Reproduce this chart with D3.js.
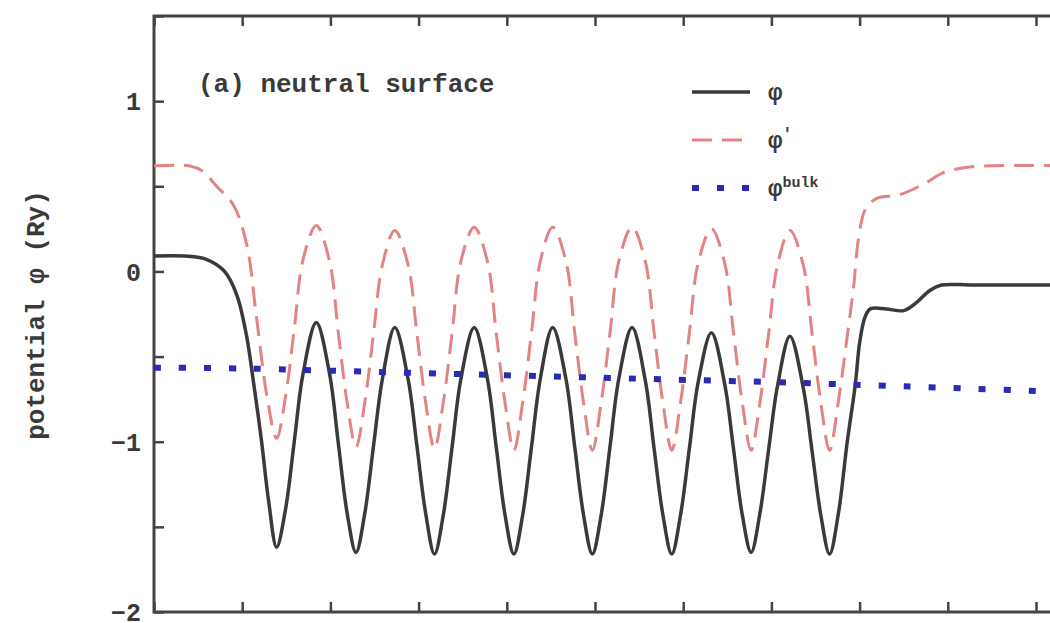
<!DOCTYPE html>
<html>
<head>
<meta charset="utf-8">
<script src="https://cdn.jsdelivr.net/npm/d3@7"></script>
<style>
  body { margin: 0; background: #fff; }
  svg { display: block; }
  .axis path { display: none; }
  .axis line { stroke: #444; stroke-width: 2.5; }
  .axis text { font-family: "Liberation Mono", monospace; font-size: 25px; font-weight: bold; fill: #3a3a3a; }
  .frame { fill: none; stroke: #444; stroke-width: 3; }
  .label { font-family: "Liberation Mono", monospace; font-weight: bold; fill: #3a3a3a; }
</style>
</head>
<body>
<svg id="chart"></svg>
<script>
// tick positions
const xTicks = [0, 1, 2, 3, 4, 5, 6, 7, 8, 9, 10, 11];
const yTicks = [-2, -1.5, -1, -0.5, 0, 0.5, 1, 1.5];

// phi (solid black)
const phiX = [0, 0.35, 0.6, 0.8, 0.94, 1.05, 1.12, 1.22, 1.30, 1.39,
  1.49, 1.59, 1.69, 1.84, 1.99, 2.09, 2.19, 2.29,
  2.39, 2.49, 2.59, 2.73, 2.88, 2.98, 3.08, 3.18,
  3.28, 3.38, 3.48, 3.63, 3.78, 3.88, 3.98, 4.08,
  4.18, 4.28, 4.38, 4.52, 4.67, 4.77, 4.87, 4.97,
  5.07, 5.17, 5.27, 5.42, 5.57, 5.67, 5.77, 5.87,
  5.97, 6.07, 6.17, 6.32, 6.47, 6.57, 6.67, 6.77,
  6.87, 6.97, 7.07, 7.21, 7.36, 7.46, 7.56, 7.66,
  7.76, 7.86, 7.95, 8.0, 8.06, 8.12, 8.3, 8.5, 8.65, 8.8, 8.93, 9.3, 11];
const phiY = [0.09, 0.09, 0.07, 0.0, -0.14, -0.38, -0.62, -1.0, -1.35, -1.62,
  -1.40, -1.0, -0.6, -0.30, -0.6, -1.01, -1.42, -1.65,
  -1.42, -1.02, -0.63, -0.33, -0.63, -1.02, -1.42, -1.66,
  -1.43, -1.03, -0.63, -0.33, -0.63, -1.03, -1.43, -1.66,
  -1.43, -1.03, -0.63, -0.33, -0.63, -1.03, -1.43, -1.66,
  -1.43, -1.03, -0.63, -0.33, -0.64, -1.04, -1.43, -1.66,
  -1.43, -1.04, -0.65, -0.36, -0.66, -1.04, -1.43, -1.65,
  -1.42, -1.04, -0.67, -0.38, -0.68, -1.05, -1.43, -1.66,
  -1.42, -1.0, -0.67, -0.42, -0.27, -0.22, -0.22, -0.23, -0.18, -0.11, -0.08, -0.08, -0.08];

// phi' (red dashed)
const phiPX = [0, 0.4, 0.55, 0.71, 0.9, 1.05, 1.16, 1.28, 1.39,
  1.49, 1.59, 1.69, 1.84, 1.99, 2.09, 2.19, 2.29,
  2.39, 2.49, 2.59, 2.73, 2.88, 2.98, 3.08, 3.18,
  3.28, 3.38, 3.48, 3.63, 3.78, 3.88, 3.98, 4.08,
  4.18, 4.28, 4.38, 4.52, 4.67, 4.77, 4.87, 4.97,
  5.07, 5.17, 5.27, 5.42, 5.57, 5.67, 5.77, 5.87,
  5.97, 6.07, 6.17, 6.32, 6.47, 6.57, 6.67, 6.77,
  6.87, 6.97, 7.07, 7.21, 7.36, 7.46, 7.56, 7.66,
  7.76, 7.86, 7.93, 7.99, 8.07, 8.2, 8.45, 8.75, 8.95, 9.2, 9.5, 11];
const phiPY = [0.62, 0.62, 0.59, 0.5, 0.39, 0.16, -0.26, -0.73, -0.98,
  -0.74, -0.34, 0.07, 0.27, 0.06, -0.36, -0.77, -1.03,
  -0.77, -0.36, 0.04, 0.24, 0.04, -0.36, -0.77, -1.04,
  -0.77, -0.36, 0.06, 0.26, 0.06, -0.36, -0.77, -1.05,
  -0.77, -0.36, 0.06, 0.26, 0.06, -0.36, -0.77, -1.05,
  -0.77, -0.36, 0.06, 0.26, 0.06, -0.36, -0.77, -1.05,
  -0.77, -0.36, 0.05, 0.25, 0.05, -0.36, -0.77, -1.05,
  -0.77, -0.36, 0.04, 0.24, 0.04, -0.36, -0.77, -1.05,
  -0.76, -0.38, -0.1, 0.2, 0.37, 0.43, 0.45, 0.52, 0.58, 0.61, 0.62, 0.62];

// phi^bulk (blue dotted)
const phiBX = [0, 1.0, 2.5, 4.0, 5.5, 7.0, 8.5, 11];
const phiBY = [-0.565, -0.57, -0.59, -0.61, -0.63, -0.65, -0.675, -0.72];

const width = 1050, height = 623;
const margin = {left: 154, top: 16, bottom: 11};

const svg = d3.select('#chart')
    .attr('width', width)
    .attr('height', height);

const xScale = d3.scaleLinear()
    .domain([0, 11])
    .range([margin.left, margin.left + 11 * 88.2]);

const yScale = d3.scaleLinear()
    .domain([-2, 1.5])
    .range([height - margin.bottom, margin.top]);

const plotW = xScale(11) - xScale(0);
const plotH = yScale(-2) - yScale(1.5);

// axes, ticks pointing inwards
svg.append('g')
    .attr('class', 'axis')
    .attr('transform', `translate(0,${yScale(-2)})`)
    .call(d3.axisBottom(xScale).tickValues(xTicks).tickSize(-10).tickFormat(''));

svg.append('g')
    .attr('class', 'axis')
    .attr('transform', `translate(0,${yScale(1.5)})`)
    .call(d3.axisTop(xScale).tickValues(xTicks).tickSize(-10).tickFormat(''));

svg.append('g')
    .attr('class', 'axis')
    .attr('transform', `translate(${xScale(0)},0)`)
    .call(d3.axisLeft(yScale).tickValues(yTicks).tickSize(-10).tickPadding(13)
      .tickFormat(d => Number.isInteger(d) ? d3.format('d')(d) : ''))
    .selectAll('text')
      .attr('dy', '0.35em');

svg.append('rect')
    .attr('class', 'frame')
    .attr('x', xScale(0))
    .attr('y', yScale(1.5))
    .attr('width', plotW)
    .attr('height', plotH);

const line = d3.line()
    .x(d => xScale(d[0]))
    .y(d => yScale(d[1]))
    .curve(d3.curveCatmullRom.alpha(0.5));

svg.append('clipPath').attr('id', 'clip')
  .append('rect')
    .attr('x', xScale(0)).attr('y', yScale(1.5))
    .attr('width', plotW).attr('height', plotH);

const plot = svg.append('g').attr('clip-path', 'url(#clip)');

plot.append('path')
    .datum(d3.zip(phiPX, phiPY))
    .attr('d', line)
    .attr('fill', 'none')
    .attr('stroke', '#e38383')
    .attr('stroke-width', 3)
    .attr('stroke-dasharray', '20,10');

plot.append('path')
    .datum(d3.zip(phiX, phiY))
    .attr('d', line)
    .attr('fill', 'none')
    .attr('stroke', '#3a3a3a')
    .attr('stroke-width', 3.5);

plot.append('path')
    .datum(d3.zip(phiBX, phiBY))
    .attr('d', line)
    .attr('fill', 'none')
    .attr('stroke', '#2a2ab5')
    .attr('stroke-width', 6)
    .attr('stroke-dasharray', '7,18');

// panel title
svg.append('text')
    .attr('class', 'label')
    .attr('x', 198)
    .attr('y', 92)
    .style('font-size', '26px')
    .text('(a) neutral surface');

// y axis title
svg.append('text')
    .attr('class', 'label')
    .attr('transform', 'rotate(-90)')
    .attr('x', -315)
    .attr('y', 44)
    .attr('text-anchor', 'middle')
    .style('font-size', '26px')
    .text('potential φ (Ry)');

// legend
const legend = svg.append('g').attr('transform', 'translate(692,0)');
const items = [
  {y: 92, stroke: '#3a3a3a', w: 3.5, dash: null},
  {y: 140, stroke: '#e38383', w: 3, dash: '20,10'},
  {y: 188, stroke: '#2a2ab5', w: 6, dash: '7,18'}
];
items.forEach(it => {
  legend.append('line')
      .attr('x1', 0).attr('x2', 58)
      .attr('y1', it.y).attr('y2', it.y)
      .attr('stroke', it.stroke)
      .attr('stroke-width', it.w)
      .attr('stroke-dasharray', it.dash);
});

legend.append('text').attr('class', 'label')
    .attr('x', 76).attr('y', 100).style('font-size', '24px')
    .text('φ');
const t2 = legend.append('text').attr('class', 'label')
    .attr('x', 76).attr('y', 148).style('font-size', '24px');
t2.append('tspan').text('φ');
t2.append('tspan').attr('dy', -9).style('font-size', '16px').text('′');
const t3 = legend.append('text').attr('class', 'label')
    .attr('x', 76).attr('y', 196).style('font-size', '24px');
t3.append('tspan').text('φ');
t3.append('tspan').attr('dy', -9).style('font-size', '15px').text('bulk');
</script>
</body>
</html>
